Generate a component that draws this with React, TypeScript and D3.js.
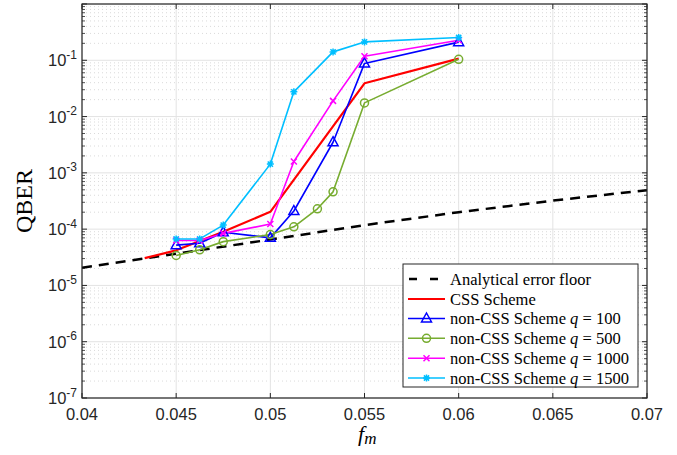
import React from "react";
import * as d3 from "d3";

// ---------- data ----------
const xTicks = [0.04, 0.045, 0.05, 0.055, 0.06, 0.065, 0.07];
const xTickLabels = ["0.04", "0.045", "0.05", "0.055", "0.06", "0.065", "0.07"];
const yTickExps = [-7, -6, -5, -4, -3, -2, -1];

const fmFloor = [0.04, 0.045, 0.05, 0.055, 0.06, 0.065, 0.07];
const qberFloor = [2.07e-5, 3.67e-5, 6.52e-5, 1.18e-4, 2.0e-4, 3.21e-4, 4.93e-4];

const fmCSS = [0.04333, 0.045, 0.0475, 0.05, 0.055, 0.06];
const qberCSS = [3.05e-5, 4.2e-5, 9.0e-5, 2.03e-4, 3.9e-2, 1.07e-1];

const fmNonCSS = [0.045, 0.04625, 0.0475, 0.05, 0.05125, 0.05333, 0.055, 0.06];
const qberQ100 = [5.2e-5, 5.6e-5, 8.8e-5, 7.0e-5, 2.1e-4, 3.5e-3, 8.8e-2, 2.1e-1];
const qberQ1000 = [6.3e-5, 6.3e-5, 8.4e-5, 1.23e-4, 1.59e-3, 1.9e-2, 1.18e-1, 2.27e-1];
const qberQ1500 = [6.7e-5, 6.7e-5, 1.18e-4, 1.43e-3, 2.75e-2, 1.41e-1, 2.12e-1, 2.54e-1];

const fmQ500 = [0.045, 0.04625, 0.0475, 0.05, 0.05125, 0.0525, 0.05333, 0.055, 0.06];
const qberQ500 = [3.4e-5, 4.3e-5, 6.0e-5, 8.0e-5, 1.1e-4, 2.3e-4, 4.6e-4, 1.75e-2, 1.04e-1];

const legendLabels = [
  "Analytical error floor",
  "CSS Scheme",
  "non-CSS Scheme",
  "non-CSS Scheme",
  "non-CSS Scheme",
  "non-CSS Scheme",
];
const legendQ = ["", "", "100", "500", "1000", "1500"];

// ---------- layout ----------
const W = 677;
const H = 455;
const L = 82;
const R = 647;
const T = 4;
const B = 398;

const AX = "#262626";
const GRID = "#e3e3e3";
const SERIF = "'Liberation Serif', 'DejaVu Serif', serif";
const SANS = "'Liberation Sans', Arial, sans-serif";

type Marker = "none" | "tri" | "circ" | "x" | "star";

interface Series {
  xs: number[];
  ys: number[];
  color: string;
  width: number;
  marker: Marker;
  dash?: string;
}

const series: Series[] = [
  { xs: fmFloor, ys: qberFloor, color: "#000000", width: 2.5, marker: "none", dash: "10,7" },
  { xs: fmCSS, ys: qberCSS, color: "#ff0000", width: 2.2, marker: "none" },
  { xs: fmNonCSS, ys: qberQ100, color: "#0000ff", width: 1.6, marker: "tri" },
  { xs: fmQ500, ys: qberQ500, color: "#77ac30", width: 1.6, marker: "circ" },
  { xs: fmNonCSS, ys: qberQ1000, color: "#ff00ff", width: 1.6, marker: "x" },
  { xs: fmNonCSS, ys: qberQ1500, color: "#00bfff", width: 1.6, marker: "star" },
];

function drawMarker(m: Marker, x: number, y: number, color: string, key: string) {
  const sw = 1.5;
  if (m === "tri") {
    return (
      <path
        key={key}
        d={`M${x},${y - 5.5}L${x + 5},${y + 3.5}L${x - 5},${y + 3.5}Z`}
        fill="none"
        stroke={color}
        strokeWidth={sw}
      />
    );
  }
  if (m === "circ") {
    return <circle key={key} cx={x} cy={y} r={4} fill="none" stroke={color} strokeWidth={sw} />;
  }
  if (m === "x") {
    const s = 3;
    return (
      <path
        key={key}
        d={`M${x - s},${y - s}L${x + s},${y + s}M${x - s},${y + s}L${x + s},${y - s}`}
        stroke={color}
        strokeWidth={sw}
      />
    );
  }
  if (m === "star") {
    const s = 3.5;
    const d = 2.6;
    return (
      <path
        key={key}
        d={`M${x - s},${y}L${x + s},${y}M${x},${y - s}L${x},${y + s}M${x - d},${y - d}L${x + d},${y + d}M${x - d},${y + d}L${x + d},${y - d}`}
        stroke={color}
        strokeWidth={sw}
      />
    );
  }
  return null;
}

export default function App() {
  const x = d3.scaleLinear().domain([0.04, 0.07]).range([L, R]);
  const y = d3.scaleLog().domain([1e-7, 1]).range([B, T]);

  const line = d3
    .line<[number, number]>()
    .x((d) => x(d[0]))
    .y((d) => y(d[1]));

  const minorY: number[] = [];
  for (let e = -7; e < 0; e++) {
    for (let k = 2; k <= 9; k++) minorY.push(k * Math.pow(10, e));
  }
  const majorY = d3.range(-7, 1).map((e) => Math.pow(10, e));

  const legX = 403;
  const legY = 264;
  const legW = 235;
  const legH = 123;
  const rowY = [279, 299, 318.5, 338.3, 358.3, 378];

  return (
    <svg
      width={W}
      height={H}
      style={{ position: "absolute", left: 0, top: 0, background: "#fff" }}
    >
      <rect x={0} y={0} width={W} height={H} fill="#fff" />
      <defs>
        <clipPath id="plotclip">
          <rect x={L} y={T} width={R - L} height={B - T} />
        </clipPath>
      </defs>

      {minorY.map((v, i) => (
        <line
          key={"mg" + i}
          x1={L}
          x2={R}
          y1={y(v)}
          y2={y(v)}
          stroke="#d0d0d0"
          strokeWidth={0.8}
          strokeDasharray="1,3"
        />
      ))}
      {majorY.map((v, i) => (
        <line key={"Mg" + i} x1={L} x2={R} y1={y(v)} y2={y(v)} stroke={GRID} strokeWidth={1} />
      ))}
      {xTicks.map((v, i) => (
        <line key={"xg" + i} x1={x(v)} x2={x(v)} y1={T} y2={B} stroke={GRID} strokeWidth={1} />
      ))}

      <g clipPath="url(#plotclip)">
        {series.map((s, i) => (
          <path
            key={"s" + i}
            d={line(s.xs.map((v, j) => [v, s.ys[j]] as [number, number])) || ""}
            fill="none"
            stroke={s.color}
            strokeWidth={s.width}
            strokeDasharray={s.dash}
            strokeLinejoin="round"
          />
        ))}
        {series.map((s, i) =>
          s.xs.map((v, j) => drawMarker(s.marker, x(v), y(s.ys[j]), s.color, `m${i}-${j}`))
        )}
      </g>

      <rect x={L} y={T} width={R - L} height={B - T} fill="none" stroke={AX} strokeWidth={1.2} />
      {xTicks.map((v, i) => (
        <g key={"xt" + i}>
          <line x1={x(v)} x2={x(v)} y1={B} y2={B - 5} stroke={AX} strokeWidth={1} />
          <line x1={x(v)} x2={x(v)} y1={T} y2={T + 5} stroke={AX} strokeWidth={1} />
          <text
            x={x(v)}
            y={420}
            textAnchor="middle"
            style={{ fontFamily: SANS, fontSize: "16.5px" }}
            fill={AX}
          >
            {xTickLabels[i]}
          </text>
        </g>
      ))}
      {majorY.map((v, i) => (
        <g key={"yt" + i}>
          <line x1={L} x2={L + 5} y1={y(v)} y2={y(v)} stroke={AX} strokeWidth={1} />
          <line x1={R} x2={R - 5} y1={y(v)} y2={y(v)} stroke={AX} strokeWidth={1} />
        </g>
      ))}
      {minorY.map((v, i) => (
        <g key={"ymt" + i}>
          <line x1={L} x2={L + 3} y1={y(v)} y2={y(v)} stroke={AX} strokeWidth={0.8} />
          <line x1={R} x2={R - 3} y1={y(v)} y2={y(v)} stroke={AX} strokeWidth={0.8} />
        </g>
      ))}
      {yTickExps.map((e, i) => (
        <text
          key={"yl" + i}
          x={77}
          y={y(Math.pow(10, e)) + 6}
          textAnchor="end"
          style={{ fontFamily: SANS, fontSize: "16.5px" }}
          fill={AX}
        >
          <tspan>10</tspan>
          <tspan dy={-7.5} style={{ fontSize: "12px" }}>
            {String(e)}
          </tspan>
        </text>
      ))}

      <text
        x={358}
        y={441}
        textAnchor="start"
        style={{ fontFamily: SERIF, fontSize: "22px", fontStyle: "italic" }}
        fill="#000"
      >
        f
        <tspan dy={3} style={{ fontSize: "17px" }}>
          m
        </tspan>
      </text>
      <text
        transform={`translate(32,${(T + B) / 2}) rotate(-90)`}
        textAnchor="middle"
        style={{ fontFamily: SERIF, fontSize: "24px" }}
        fill="#000"
      >
        QBER
      </text>

      <rect x={legX} y={legY} width={legW} height={legH} fill="#fff" stroke={AX} strokeWidth={1} />
      {series.map((s, i) => (
        <g key={"lg" + i}>
          {s.dash ? (
            <line
              x1={409}
              x2={439}
              y1={rowY[i]}
              y2={rowY[i]}
              stroke={s.color}
              strokeWidth={s.width}
              strokeDasharray="8,13"
            />
          ) : (
            <line x1={408} x2={445} y1={rowY[i]} y2={rowY[i]} stroke={s.color} strokeWidth={s.width} />
          )}
          {drawMarker(s.marker, 426.5, rowY[i], s.color, "lm" + i)}
          <text
            x={450}
            y={rowY[i] + 5.5}
            style={{ fontFamily: SERIF, fontSize: "16.5px" }}
            fill="#000"
          >
            {legendLabels[i]}
            {legendQ[i] !== "" ? (
              <>
                {" "}
                <tspan style={{ fontStyle: "italic" }}>q</tspan>
                {" = " + legendQ[i]}
              </>
            ) : null}
          </text>
        </g>
      ))}
    </svg>
  );
}
